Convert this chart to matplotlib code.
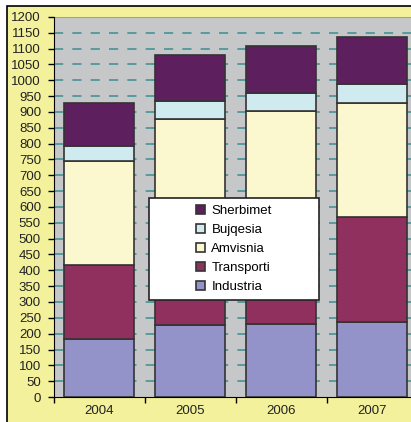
import matplotlib
matplotlib.use("Agg")
import matplotlib.pyplot as plt
import matplotlib.patches as patches
import numpy as np

plt.rcParams['font.family'] = ['Liberation Sans', 'DejaVu Sans']

years = ['2004', '2005', '2006', '2007']
industria = [183, 228, 232, 236]
transporti = [234, 272, 288, 333]
amvisnia = [329, 379, 384, 359]
bujqesia = [48, 56, 56, 59]
sherbimet = [134, 146, 149, 151]

series = [('Industria', industria, '#9393c9'),
          ('Transporti', transporti, '#90305f'),
          ('Amvisnia', amvisnia, '#fbf8d0'),
          ('Bujqesia', bujqesia, '#d0ebf0'),
          ('Sherbimet', sherbimet, '#5e1f5e')]

W, H = 411, 422
fig = plt.figure(figsize=(W / 100, H / 100), dpi=100, facecolor='white')

# yellow chart area with black frame (cut off at right/bottom)
frame = patches.Rectangle((7 / W, -0.1), 1.2, 1 - 6 / H + 0.1, transform=fig.transFigure,
                          facecolor='#f4f19c', edgecolor='black', linewidth=1.2, zorder=-5)
fig.patches.append(frame)

ax = fig.add_axes([53.5 / W, 1 - 397 / H, 364 / W, 380 / H])
ax.set_zorder(1)
ax.set_facecolor('#c6c7c9')

x = np.arange(len(years))
bottom = np.zeros(len(years))
handles = []
for name, vals, col in series:
    b = ax.bar(x, vals, 0.78, bottom=bottom, color=col, edgecolor='#333333',
               linewidth=1.2, label=name, zorder=3)
    bottom += np.array(vals)
    handles.append(b)

ax.set_xlim(-0.5, 3.5)
ax.set_ylim(0, 1200)
ax.set_yticks(np.arange(0, 1201, 50))
ax.tick_params(axis='y', direction='out', length=4, width=1, pad=5, labelsize=9.5,
               labelcolor='#222222')
for yv in range(50, 1200, 50):
    ax.axhline(yv, color='#3a8f90', linewidth=1.1, linestyle=(0, (6, 6)), zorder=1)
ax.axhline(1200, color='#8a9aa0', linewidth=1.2, zorder=1)

ax.set_xticks(x)
ax.set_xticklabels(years)
ax.tick_params(axis='x', which='major', length=0, pad=6, labelsize=9.5, labelcolor='#222222')
ax.set_xticks(np.arange(-0.5, 4, 1), minor=True)
ax.tick_params(axis='x', which='minor', direction='out', length=4, width=1)

for s in ['top', 'right']:
    ax.spines[s].set_visible(False)
ax.spines['left'].set_color('black')
ax.spines['bottom'].set_color('black')

# legend box
box = patches.Rectangle((149 / W, 1 - 300 / H), 170 / W, 102 / H, transform=fig.transFigure,
                        facecolor='white', edgecolor='#222222', linewidth=1.2, zorder=4)
ax.add_patch(box)
box.set_clip_on(False)
leg = ax.legend(handles[::-1], [s[0] for s in series][::-1], loc='center',
                bbox_to_anchor=(234 / W, 1 - 249 / H), bbox_transform=fig.transFigure,
                frameon=False, fontsize=9.5, handlelength=0.65, handleheight=0.65,
                handletextpad=0.5, labelspacing=0.52)
leg.set_zorder(5)

fig.savefig('out.png', dpi=100, facecolor='white')
